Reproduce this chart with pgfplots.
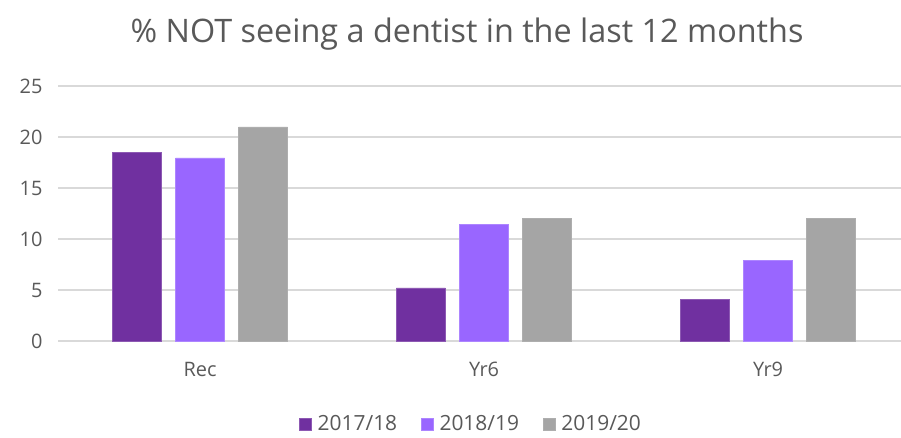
\documentclass[border=0pt]{standalone}
\usepackage{pgfplots}
\pgfplotsset{compat=1.18}
\usepackage{fontspec}
\setmainfont{Open Sans}
\definecolor{txt}{HTML}{595959}
\definecolor{gridc}{HTML}{D9D9D9}
\definecolor{sA}{HTML}{7030A0}
\definecolor{sB}{HTML}{9966FF}
\definecolor{sC}{HTML}{A5A5A5}
\newcommand{\tickfont}{\fontsize{20}{22}\selectfont}
\begin{document}
\begin{tikzpicture}
\path[use as bounding box] (-58bp,-97bp) rectangle (843bp,341bp);
\begin{axis}[
  at={(0,0)}, anchor=south west,
  scale only axis, width=843bp, height=255bp,
  xmin=-0.5, xmax=2.468, ymin=0, ymax=25,
  xtick={0,1,2}, xticklabels={Rec,Yr6,Yr9},
  ytick={0,5,10,15,20,25},
  yticklabels={0,5,10,15,20,25},
  major tick length=0pt,
  axis line style={draw=none},
  ymajorgrids, grid style={gridc, line width=1.2bp},
  xticklabel style={font=\tickfont, text=txt, yshift=-18bp},
  yticklabel style={font=\tickfont, text=txt, anchor=east, xshift=-12bp},
  ybar, bar width=0.1725,
  legend style={at={(0.49,-0.325)}, anchor=center, draw=none, font=\fontsize{21}{23}\selectfont, text=txt, legend columns=-1,
    /tikz/every odd column/.append style={column sep=4bp},
    /tikz/every even column/.append style={column sep=22bp}},
  legend image code/.code={\fill[#1] (0bp,-6bp) rectangle (12bp,6bp);},
  clip=false,
]
\addplot[fill=sA, draw=sA!80!white, bar shift=-0.222] coordinates {(0,18.5) (1,5.2) (2,4.1)};
\addplot[fill=sB, draw=sB!80!white, bar shift=0] coordinates {(0,17.95) (1,11.45) (2,7.9)};
\addplot[fill=sC, draw=sC!90!white, bar shift=0.222] coordinates {(0,21.0) (1,12.0) (2,12.0)};
\legend{2017/18,2018/19,2019/20}
\end{axis}
\node[text=txt, font=\fontsize{32.5}{36}\selectfont] at (409bp,307bp) {\% NOT seeing a dentist in the last 12 months};
\end{tikzpicture}
\end{document}
